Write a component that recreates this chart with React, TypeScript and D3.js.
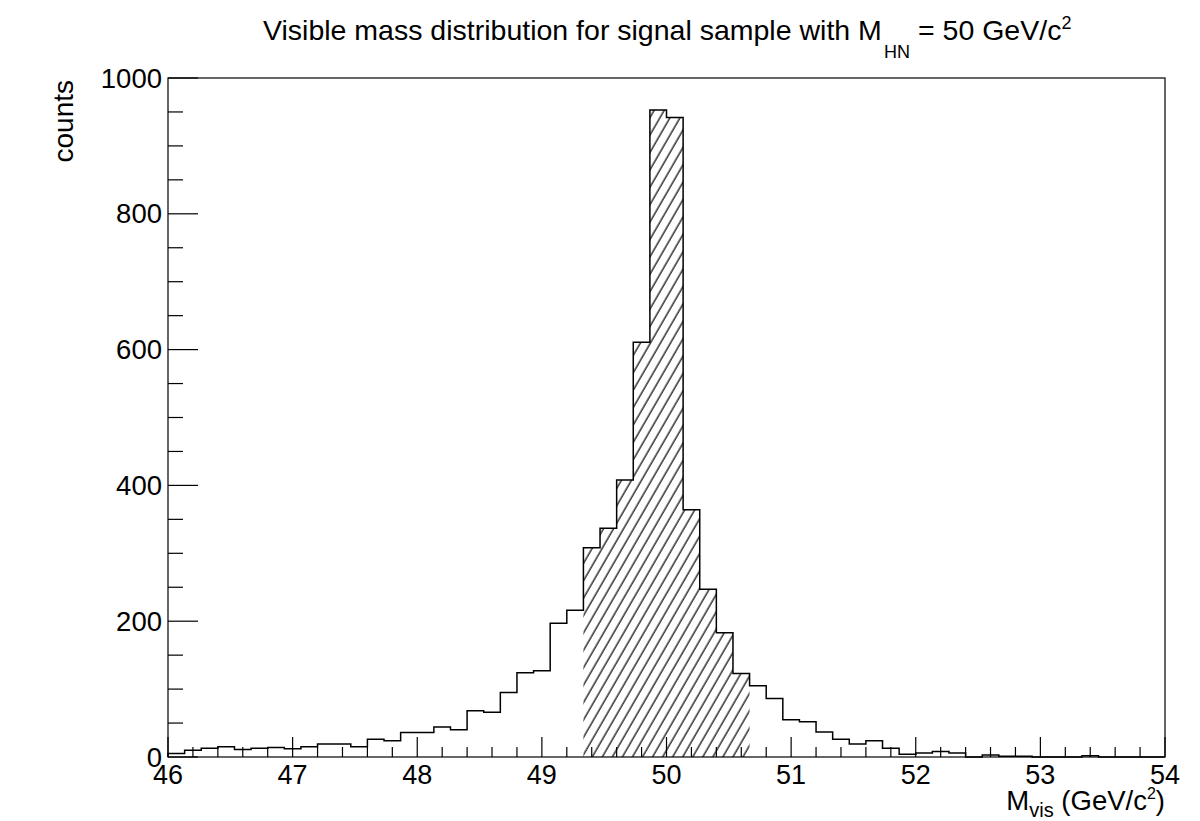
import React from "react";
import * as d3 from "d3";

const binCounts: number[] = [
  5, 10, 13, 15, 11, 13, 14, 12, 15, 19,
  19, 15, 26, 24, 36, 36, 44, 40, 68, 66,
  95, 124, 127, 197, 216, 308, 337, 408, 611, 953,
  942, 364, 247, 183, 123, 105, 86, 55, 52, 37,
  26, 19, 24, 13, 4, 6, 8, 6, 0, 3,
  1, 1, 0, 0, 0, 2, 0, 0, 0, 0,
];
const xRange: [number, number] = [46, 54];
const yRange: [number, number] = [0, 1000];
const xTickLabels: number[] = [46, 47, 48, 49, 50, 51, 52, 53, 54];
const yTickLabels: number[] = [0, 200, 400, 600, 800, 1000];
const hatchedBins: [number, number] = [25, 34];

const W = 1200;
const H = 821;
const L = 168, R = 1165, T = 78, B = 757;
const FONT = "'Liberation Sans', Arial, Helvetica, sans-serif";

export default function App() {
  const x = d3.scaleLinear().domain(xRange).range([L, R]);
  const y = d3.scaleLinear().domain(yRange).range([B, T]);
  const n = binCounts.length;
  const bw = (xRange[1] - xRange[0]) / n;
  const edge = (i: number) => x(xRange[0] + i * bw);

  let outline = `M${edge(0)},${y(0)}`;
  binCounts.forEach((c, i) => {
    outline += `L${edge(i)},${y(c)}L${edge(i + 1)},${y(c)}`;
  });
  outline += `L${edge(n)},${y(0)}`;

  const [h0, h1] = hatchedBins;
  let hatch = `M${edge(h0)},${y(0)}`;
  for (let i = h0; i <= h1; i++) {
    hatch += `L${edge(i)},${y(binCounts[i])}L${edge(i + 1)},${y(binCounts[i])}`;
  }
  hatch += `L${edge(h1 + 1)},${y(0)}Z`;

  const xMinor = d3.range(xRange[0], xRange[1] + 1e-9, 0.2);
  const yMinor = d3.range(yRange[0], yRange[1] + 1e-9, 50);

  return (
    <svg
      width={W}
      height={H}
      style={{ position: "absolute", left: 0, top: 0, background: "#fff" }}
      fontFamily={FONT}
    >
      <defs>
        <pattern
          id="hatch"
          patternUnits="userSpaceOnUse"
          width={8.7}
          height={20}
          patternTransform="rotate(30)"
        >
          <line x1={4} y1={-2} x2={4} y2={22} stroke="#111" strokeWidth={1.3} />
        </pattern>
      </defs>
      <rect x={0} y={0} width={W} height={H} fill="#fff" />

      <path d={hatch} fill="url(#hatch)" stroke="none" />
      <path d={outline} fill="none" stroke="#000" strokeWidth={1.5} />

      <rect x={L} y={T} width={R - L} height={B - T} fill="none" stroke="#000" strokeWidth={1.2} />

      {xMinor.map((v, i) => {
        const major = Math.abs(v - Math.round(v)) < 1e-6;
        return (
          <line
            key={"xt" + i}
            x1={x(v)}
            x2={x(v)}
            y1={B}
            y2={B - (major ? 20 : 10)}
            stroke="#000"
            strokeWidth={1.2}
          />
        );
      })}
      {xTickLabels.map((v) => (
        <text key={"xl" + v} x={x(v)} y={784} fontSize={27} textAnchor="middle" fill="#000">
          {v}
        </text>
      ))}

      {yMinor.map((v, i) => {
        const major = v % 200 === 0;
        return (
          <line
            key={"yt" + i}
            x1={L}
            x2={L + (major ? 30 : 15)}
            y1={y(v)}
            y2={y(v)}
            stroke="#000"
            strokeWidth={1.2}
          />
        );
      })}
      {yTickLabels.map((v) => (
        <text key={"yl" + v} x={162} y={y(v) + 9.5} fontSize={27.5} textAnchor="end" fill="#000">
          {v}
        </text>
      ))}

      <text
        transform={`translate(73,${T + 2}) rotate(-90)`}
        fontSize={28}
        textAnchor="end"
        fill="#000"
      >
        counts
      </text>
      <text x={R} y={810} fontSize={27.5} textAnchor="end" fill="#000">
        M<tspan fontSize={20} dy={7}>vis</tspan>
        <tspan dy={-7}> (GeV/c</tspan>
        <tspan fontSize={16} dy={-11}>2</tspan>
        <tspan dy={11}>)</tspan>
      </text>

      <text y={40} fontSize={28.5} fill="#000">
        <tspan x={263}>Visible mass distribution for signal sample with M</tspan>
        <tspan x={884} fontSize={18} dy={18}>HN</tspan>
        <tspan x={918} dy={-18}>= 50 GeV/c</tspan>
        <tspan fontSize={18} dy={-11}>2</tspan>
      </text>
    </svg>
  );
}
